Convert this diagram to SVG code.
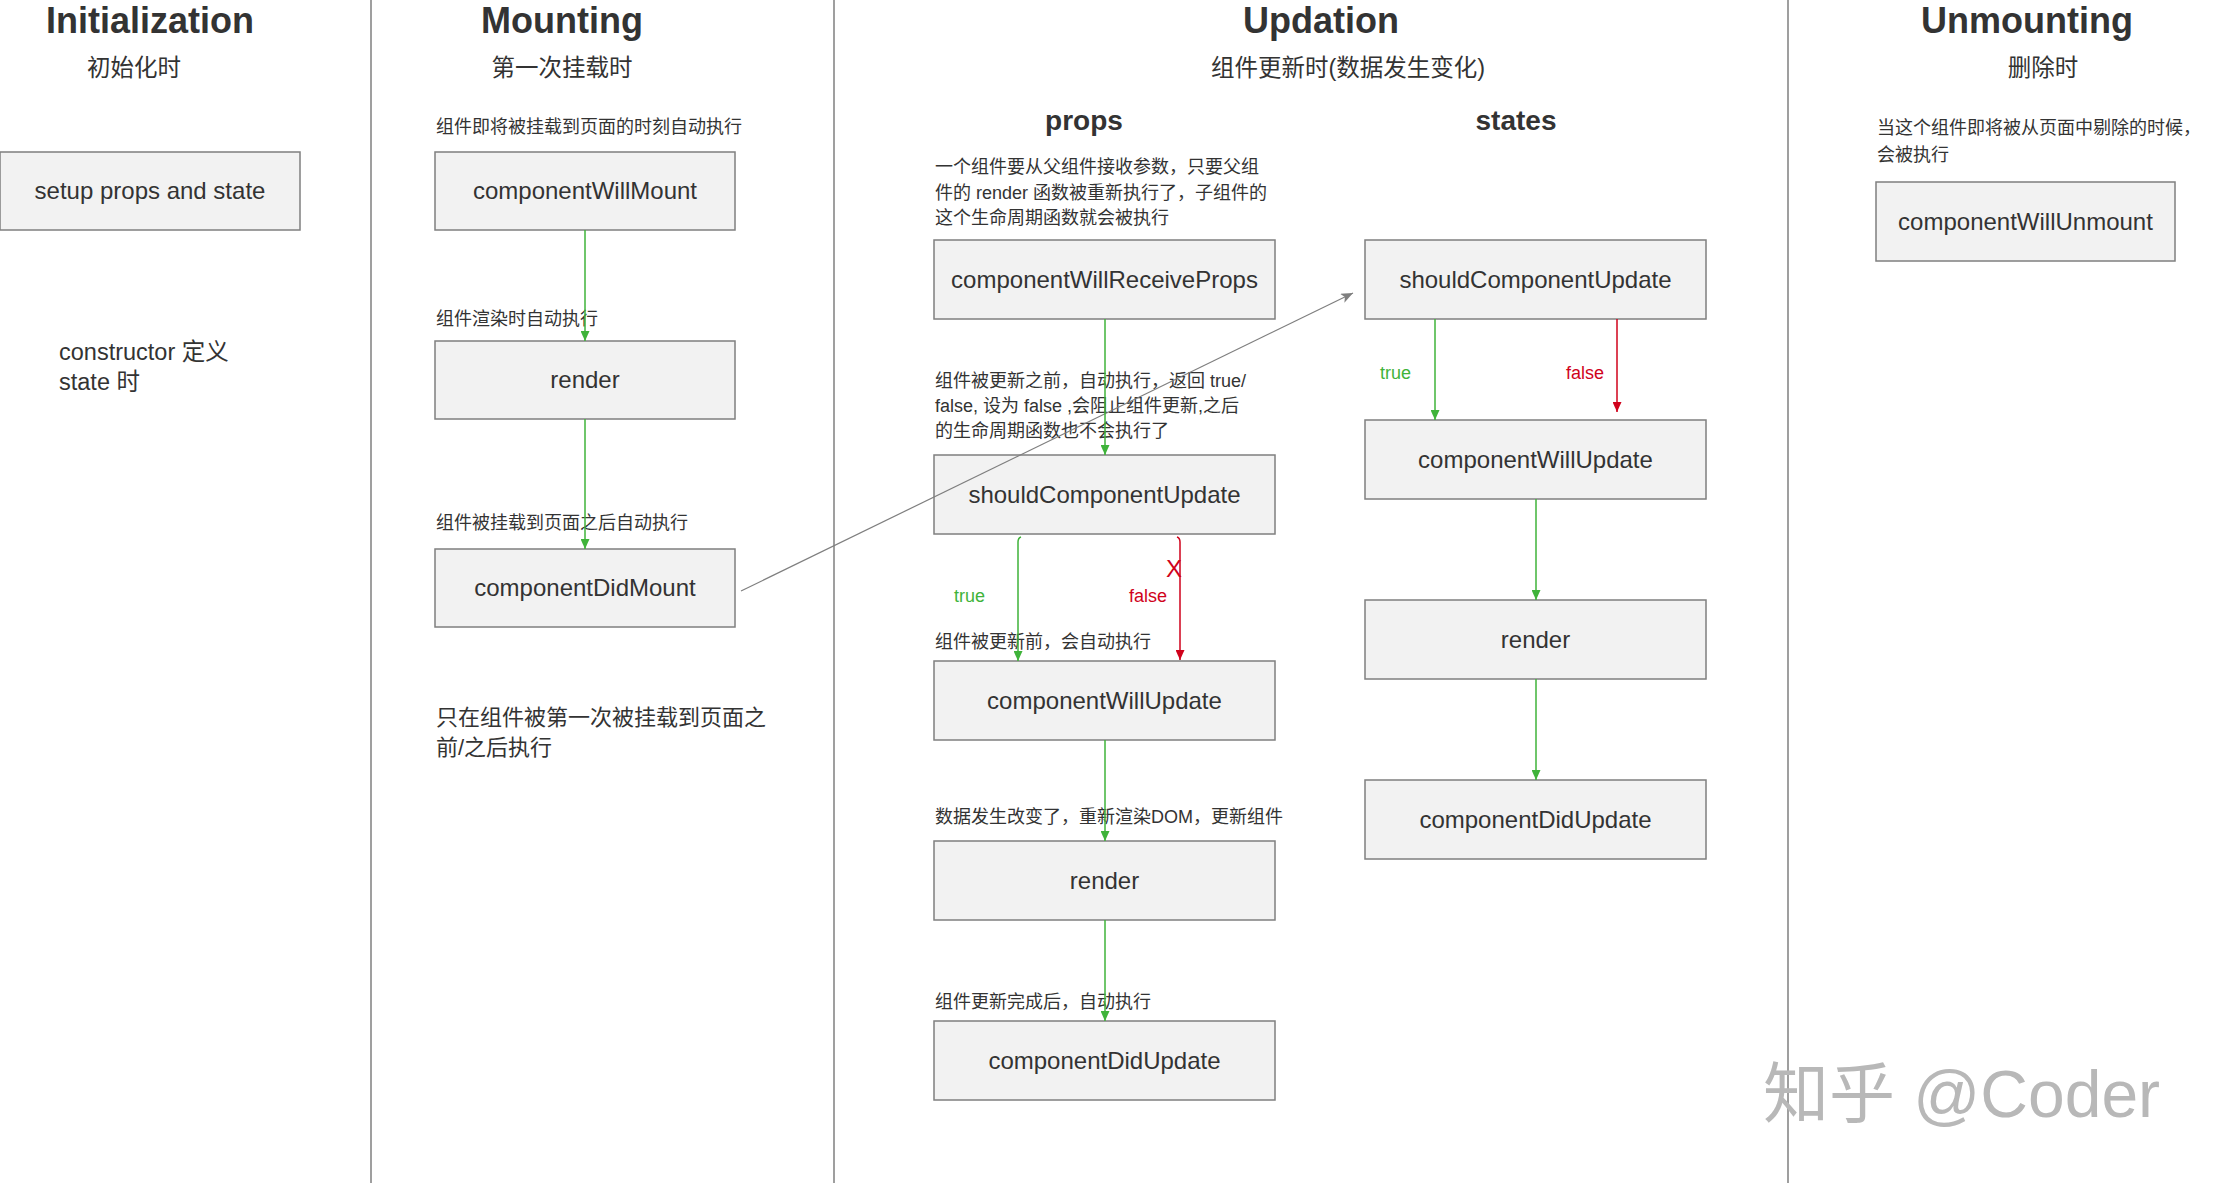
<svg xmlns="http://www.w3.org/2000/svg" width="2216" height="1183" viewBox="0 0 2216 1183">
<style>
text{font-family:"Liberation Sans","Noto Sans CJK SC",sans-serif;fill:#333}
.title{font-size:36px;font-weight:bold;text-anchor:middle}
.sub{font-size:23.5px;text-anchor:middle}
.h2{font-size:28px;font-weight:bold;text-anchor:middle}
.note{font-size:18px}
.big{font-size:22px}
.box rect{fill:#f2f2f2;stroke:#7f7f7f;stroke-width:1.5}
.box text{font-size:24px;text-anchor:middle}
.div{stroke:#7f7f7f;stroke-width:1.5}
.g{stroke:#3fb33a;stroke-width:1.5;fill:none;marker-end:url(#ag)}
.r{stroke:#d0021b;stroke-width:1.5;fill:none;marker-end:url(#ar)}
.k{stroke:#7f7f7f;stroke-width:1.2;fill:none;marker-end:url(#ak)}
.tg{font-size:18px;fill:#3fb33a}
.tr{font-size:18px;fill:#d0021b}
.wm{font-size:66px;fill:#b8b8b8}
</style>
<defs>
<marker id="ag" markerUnits="userSpaceOnUse" markerWidth="11" markerHeight="9" refX="10" refY="4.5" orient="auto"><path d="M0,0 L10,4.5 L0,9 z" fill="#3fb33a"/></marker>
<marker id="ar" markerUnits="userSpaceOnUse" markerWidth="11" markerHeight="9" refX="10" refY="4.5" orient="auto"><path d="M0,0 L10,4.5 L0,9 z" fill="#d0021b"/></marker>
<marker id="ak" markerUnits="userSpaceOnUse" markerWidth="13" markerHeight="10" refX="12" refY="5" orient="auto"><path d="M0,0 L12,5 L0,10 L3,5 z" fill="#7f7f7f"/></marker>
</defs>
<rect width="2216" height="1183" fill="#fff"/>
<g id="dividers">
<line class="div" x1="371" y1="0" x2="371" y2="1183"/>
<line class="div" x1="834" y1="0" x2="834" y2="1183"/>
<line class="div" x1="1788" y1="0" x2="1788" y2="1183"/>
</g>
<g id="headers">
<text class="title" x="150" y="33">Initialization</text>
<text class="sub" x="134" y="76">初始化时</text>
<text class="title" x="562" y="33">Mounting</text>
<text class="sub" x="562" y="76">第一次挂载时</text>
<text class="title" x="1321" y="33">Updation</text>
<text class="sub" x="1348" y="76">组件更新时(数据发生变化)</text>
<text class="title" x="2027" y="33">Unmounting</text>
<text class="sub" x="2043" y="76">删除时</text>
<text class="h2" x="1084" y="130">props</text>
<text class="h2" x="1516" y="130">states</text>
</g>
<g id="notes">
<text class="big" x="59" y="360" style="font-size:23.5px">constructor 定义</text>
<text class="big" x="59" y="390" style="font-size:23.5px">state 时</text>
<text class="note" x="436" y="133">组件即将被挂载到页面的时刻自动执行</text>
<text class="note" x="436" y="325">组件渲染时自动执行</text>
<text class="note" x="436" y="529">组件被挂载到页面之后自动执行</text>
<text class="big" x="436" y="725">只在组件被第一次被挂载到页面之</text>
<text class="big" x="436" y="755">前/之后执行</text>
<text class="note" x="935" y="173">一个组件要从父组件接收参数，只要父组</text>
<text class="note" x="935" y="199">件的 render 函数被重新执行了，子组件的</text>
<text class="note" x="935" y="224">这个生命周期函数就会被执行</text>
<text class="note" x="935" y="387">组件被更新之前，自动执行，返回 true/</text>
<text class="note" x="935" y="412">false, 设为 false ,会阻止组件更新,之后</text>
<text class="note" x="935" y="437">的生命周期函数也不会执行了</text>
<text class="note" x="935" y="648">组件被更新前，会自动执行</text>
<text class="note" x="935" y="823">数据发生改变了，重新渲染DOM，更新组件</text>
<text class="note" x="935" y="1008">组件更新完成后，自动执行</text>
<text class="note" x="1877" y="134">当这个组件即将被从页面中剔除的时候，</text>
<text class="note" x="1877" y="161">会被执行</text>
</g>
<g id="setup" class="box"><rect x="0" y="152" width="300" height="78"/><text x="150" y="199">setup props and state</text></g>
<g id="componentWillMount" class="box"><rect x="435" y="152" width="300" height="78"/><text x="585" y="199">componentWillMount</text></g>
<g id="mountRender" class="box"><rect x="435" y="341" width="300" height="78"/><text x="585" y="388">render</text></g>
<g id="componentDidMount" class="box"><rect x="435" y="549" width="300" height="78"/><text x="585" y="596">componentDidMount</text></g>
<g id="componentWillReceiveProps" class="box"><rect x="934" y="240" width="341" height="79"/><text x="1104.5" y="288">componentWillReceiveProps</text></g>
<g id="propsShouldUpdate" class="box"><rect x="934" y="455" width="341" height="79"/><text x="1104.5" y="503">shouldComponentUpdate</text></g>
<g id="propsWillUpdate" class="box"><rect x="934" y="661" width="341" height="79"/><text x="1104.5" y="709">componentWillUpdate</text></g>
<g id="propsRender" class="box"><rect x="934" y="841" width="341" height="79"/><text x="1104.5" y="889">render</text></g>
<g id="propsDidUpdate" class="box"><rect x="934" y="1021" width="341" height="79"/><text x="1104.5" y="1069">componentDidUpdate</text></g>
<g id="statesShouldUpdate" class="box"><rect x="1365" y="240" width="341" height="79"/><text x="1535.5" y="288">shouldComponentUpdate</text></g>
<g id="statesWillUpdate" class="box"><rect x="1365" y="420" width="341" height="79"/><text x="1535.5" y="468">componentWillUpdate</text></g>
<g id="statesRender" class="box"><rect x="1365" y="600" width="341" height="79"/><text x="1535.5" y="648">render</text></g>
<g id="statesDidUpdate" class="box"><rect x="1365" y="780" width="341" height="79"/><text x="1535.5" y="828">componentDidUpdate</text></g>
<g id="componentWillUnmount" class="box"><rect x="1876" y="182" width="299" height="79"/><text x="2025.5" y="230">componentWillUnmount</text></g>
<g id="connectors">
<line class="g" x1="585" y1="230" x2="585" y2="341"/>
<line class="g" x1="585" y1="419" x2="585" y2="549"/>
<line class="k" x1="741" y1="591" x2="1353" y2="293"/>
<line class="g" x1="1105" y1="319" x2="1105" y2="455"/>
<path class="g" d="M1021,537 Q1018,538 1018,542 L1018,661"/>
<path class="r" d="M1177,537 Q1180,538 1180,542 L1180,660"/>
<line class="g" x1="1105" y1="740" x2="1105" y2="841"/>
<line class="g" x1="1105" y1="920" x2="1105" y2="1021"/>
<line class="g" x1="1435" y1="319" x2="1435" y2="420"/>
<line class="r" x1="1617" y1="319" x2="1617" y2="412"/>
<line class="g" x1="1536" y1="499" x2="1536" y2="600"/>
<line class="g" x1="1536" y1="679" x2="1536" y2="780"/>
</g>
<g id="labels">
<text class="tg" x="954" y="602">true</text>
<text class="tr" x="1129" y="602">false</text>
<text class="tr" x="1166" y="577" style="font-size:24px">X</text>
<text class="tg" x="1380" y="379">true</text>
<text class="tr" x="1566" y="379">false</text>
</g>
<text class="wm" x="1763" y="1117">知乎 @Coder</text>
</svg>
